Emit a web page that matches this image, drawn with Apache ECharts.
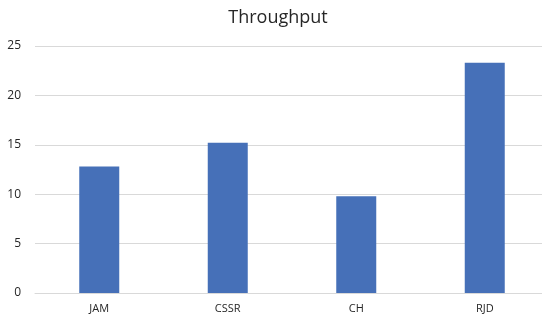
<!DOCTYPE html>
<html>
<head>
<meta charset="utf-8">
<script src="https://cdn.jsdelivr.net/npm/echarts@6/dist/echarts.min.js"></script>
<style>
    html, body { margin: 0; padding: 0; background: #fff; overflow: hidden; }
    /* original picture is cropped on the right, so the canvas is a bit wider than the window */
    #chart_throughput { width: 549px; height: 321px; }
</style>
</head>
<body>
<div id="chart_throughput"></div>
<script>
var categories = ['JAM', 'CSSR', 'CH', 'RJD'];
var throughputData = [12.8, 15.2, 9.8, 23.3];
var yTicks = [0, 5, 10, 15, 20, 25];

var chart_throughput = echarts.init(document.getElementById('chart_throughput'));

var option = {
    animation: false,
    title: {
        text: 'Throughput',
        left: 273,
        textAlign: 'center',
        top: 4,
        textStyle: {
            fontFamily: 'Open Sans',
            fontSize: 18,
            fontWeight: 'normal',
            color: '#262626'
        }
    },
    grid: {
        left: 35,
        right: 0,
        top: 46,
        bottom: 28
    },
    xAxis: {
        type: 'category',
        data: categories,
        axisTick: { show: false },
        axisLine: {
            lineStyle: { color: '#d9d9d9' }
        },
        axisLabel: {
            margin: 10,
            fontFamily: 'Open Sans',
            fontSize: 11,
            color: '#262626'
        }
    },
    yAxis: {
        type: 'value',
        min: yTicks[0],
        max: yTicks[yTicks.length - 1],
        interval: 5,
        axisLine: { show: false },
        axisTick: { show: false },
        splitLine: {
            lineStyle: { color: '#d9d9d9', width: 1 }
        },
        axisLabel: {
            margin: 14,
            fontFamily: 'Open Sans',
            fontSize: 12,
            color: '#262626'
        }
    },
    series: [
        {
            name: 'Throughput',
            type: 'bar',
            barWidth: 40,
            data: throughputData,
            itemStyle: { color: '#4670b8' }
        }
    ]
};

chart_throughput.setOption(option);
</script>
</body>
</html>
